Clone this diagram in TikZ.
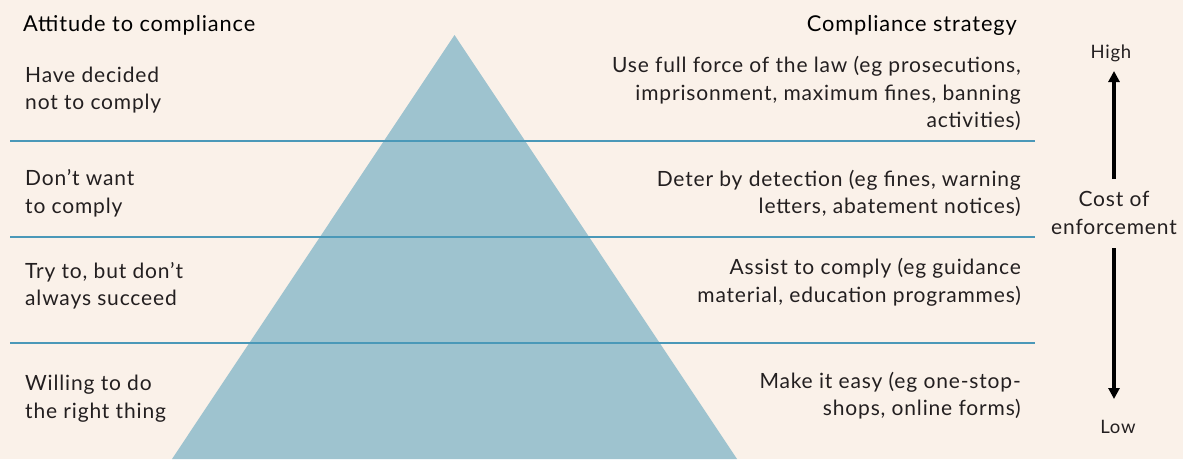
\documentclass[tikz,border=0pt]{standalone}
\usepackage{fontspec}
\setmainfont{Lato}[LetterSpace=4]
\usetikzlibrary{arrows.meta}
\definecolor{bgcream}{HTML}{FAF1E9}
\definecolor{pyrblue}{HTML}{9EC3CF}
\definecolor{linblue}{HTML}{4A98B8}
\definecolor{txtdark}{HTML}{231F20}
\tikzset{
  bodytext/.style={inner sep=0pt, text=txtdark, font=\fontsize{21}{27.5}\selectfont},
  lefttext/.style={bodytext, anchor=west, align=left},
  righttext/.style={bodytext, anchor=east, align=right},
  headtext/.style={inner sep=0pt, text=black, font=\fontsize{21.8}{24}\selectfont},
  smalltext/.style={inner sep=0pt, text=txtdark, font=\fontsize{18.5}{20}\selectfont},
  divider/.style={draw=linblue, line width=1.4pt},
  costarrow/.style={draw=black, line width=3.6pt, -{Triangle[length=11pt,width=11pt]}}
}
\begin{document}
\begin{tikzpicture}[x=1pt,y=-1pt]
\useasboundingbox (0,0) rectangle (1183,459);
\fill[bgcream] (0,0) rectangle (1183,459);
\fill[pyrblue] (454.5,35) -- (737,459) -- (172,459) -- cycle;
\coordinate (l1a) at (10,141); \coordinate (l1b) at (1035,141);
\coordinate (l2a) at (10,237); \coordinate (l2b) at (1035,237);
\coordinate (l3a) at (10,343); \coordinate (l3b) at (1035,343);
\draw[divider] (l1a) -- (l1b);
\draw[divider] (l2a) -- (l2b);
\draw[divider] (l3a) -- (l3b);
\node[headtext, anchor=west] (hleft) at (23,25) {Attitude to compliance};
\node[headtext, anchor=east] (hright) at (1017,25) {Compliance strategy};
\node[lefttext] (a1) at (25,90) {Have decided\\not to comply};
\node[lefttext] (a2) at (25,193.5) {Don’t want\\to comply};
\node[lefttext] (a3) at (25,286) {Try to, but don’t\\always succeed};
\node[lefttext] (a4) at (25,398.5) {Willing to do\\the right thing};
\node[righttext] (s1) at (1021,93.5) {Use full force of the law (eg prosecutions,\\imprisonment, maximum fines, banning\\activities)};
\node[righttext] (s2) at (1021,193.5) {Deter by detection (eg fines, warning\\letters, abatement notices)};
\node[righttext] (s3) at (1021,282.5) {Assist to comply (eg guidance\\material, education programmes)};
\node[righttext] (s4) at (1021,395.5) {Make it easy (eg one-stop-\\shops, online forms)};
\node[smalltext] (high) at (1111,53) {High};
\node[smalltext] (low) at (1118,427) {Low};
\node[bodytext, align=center] (cost) at (1114,213) {Cost of\\enforcement};
\coordinate (ctop) at (1114,179);
\coordinate (hightip) at (1114,71);
\coordinate (cbot) at (1114,248);
\coordinate (lowtip) at (1114,399);
\draw[costarrow] (ctop) -- (hightip);
\draw[costarrow] (cbot) -- (lowtip);
\end{tikzpicture}
\end{document}
